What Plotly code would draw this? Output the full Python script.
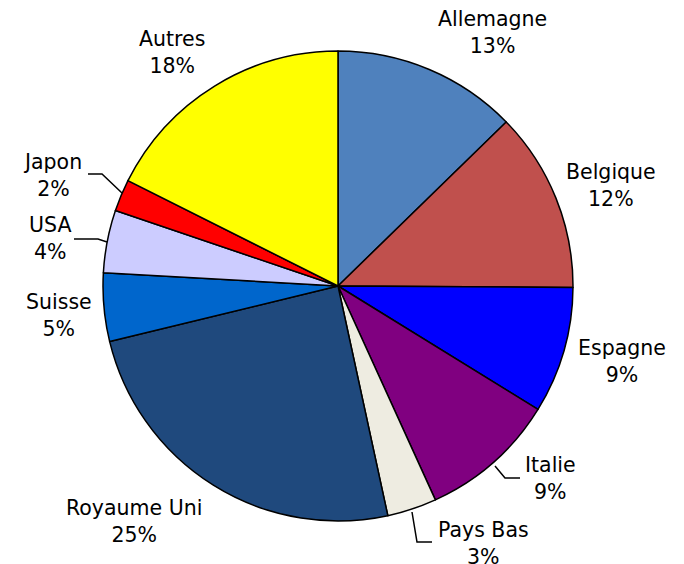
import plotly.graph_objects as go

# parts estimees sur le camembert (en %)
pays = ["Allemagne", "Belgique", "Espagne", "Italie", "Pays Bas",
        "Royaume Uni", "Suisse", "USA", "Japon", "Autres"]
parts = [12.7, 12.4, 8.7, 9.4, 3.4, 24.6, 4.7, 4.3, 2.2, 17.6]
couleurs = ["#4F81BD", "#C0504D", "#0000FF", "#800080", "#EEECE1",
            "#1F497D", "#0066CC", "#CCCCFF", "#FF0000", "#FFFF00"]

# la page ajoute une marge de 8 px autour du graphique
MARGE = 8
W, H = 684 - 2 * MARGE, 564 - MARGE

# position des etiquettes (centre du bloc de texte, en pixels de la page)
pos_etiquettes = [(492, 33), (611, 185), (622, 361), (550, 478), (484, 543),
                  (134, 521), (59, 315), (50, 238), (52, 175), (172, 53)]

# traits de rappel (pixels de la page)
traits = [
    [(88, 174), (102, 174), (122, 193)],   # Japon
    [(74, 239), (98, 239), (107, 242)],    # USA
    [(495, 466), (505, 478), (520, 478)],  # Italie
    [(412, 512), (417, 542), (432, 542)],  # Pays Bas
]


def px(x, y):
    return (x - MARGE) / W, 1 - (y - MARGE) / H


cx, cy, r = 338, 286, 235
x0, y0 = px(cx - r, cy + r)
x1, y1 = px(cx + r, cy - r)

fig = go.Figure(go.Pie(
    labels=pays,
    values=parts,
    sort=False,
    direction="clockwise",
    rotation=0,
    textinfo="none",
    hoverinfo="label+percent",
    marker=dict(colors=couleurs, line=dict(color="black", width=1.5)),
    domain=dict(x=[x0, x1], y=[y0, y1]),
    showlegend=False,
))

total = sum(parts)
for nom, v, (x, y) in zip(pays, parts, pos_etiquettes):
    xp, yp = px(x, y)
    fig.add_annotation(
        x=xp, y=yp, xref="paper", yref="paper",
        text=f"{nom}<br>{v / total * 100:.0f}%",
        showarrow=False, xanchor="center", yanchor="middle",
        font=dict(family="DejaVu Sans, Verdana, sans-serif", size=20.5, color="black"),
    )

for t in traits:
    chemin = "M " + " L ".join(f"{px(x, y)[0]} {px(x, y)[1]}" for x, y in t)
    fig.add_shape(type="path", path=chemin, xref="paper", yref="paper",
                  line=dict(color="black", width=1.5))

fig.update_layout(
    width=W, height=H,
    margin=dict(l=0, r=0, t=0, b=0),
    paper_bgcolor="white",
    plot_bgcolor="white",
)

# pas de barre de defilement
fig.write_html("out.html", config={"displayModeBar": False},
               post_script="document.documentElement.style.overflow='hidden';"
                           "document.body.style.overflow='hidden';")
